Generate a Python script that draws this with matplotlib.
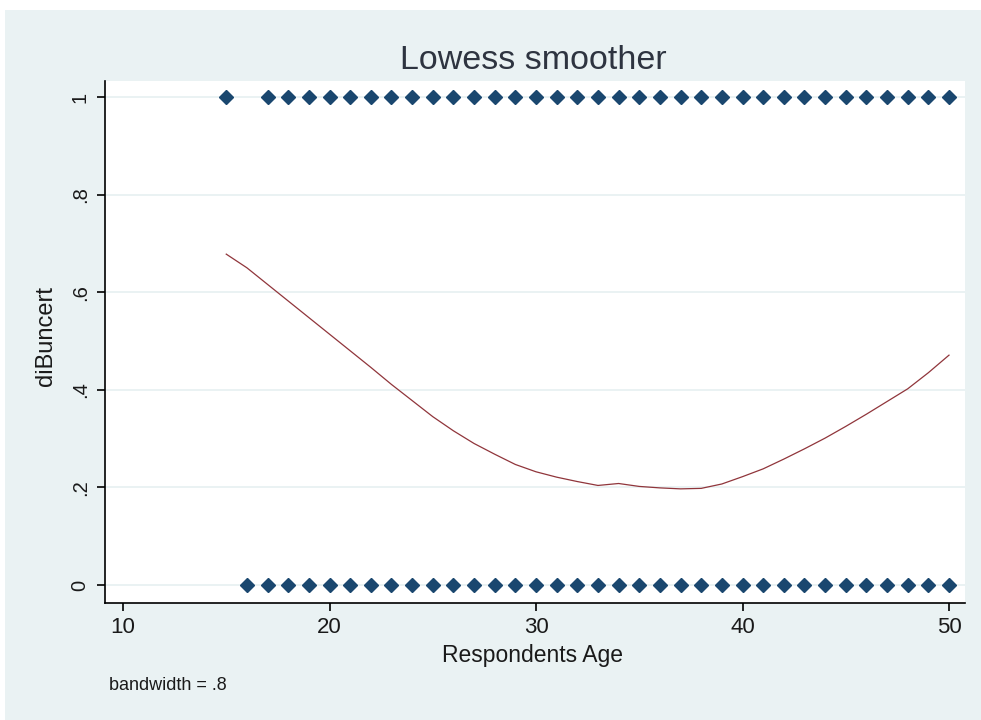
import matplotlib
matplotlib.use("Agg")
import matplotlib.pyplot as plt
from matplotlib.patches import Rectangle

# ---- data ----
ages_one = [15] + list(range(17, 51))
ages_zero = list(range(16, 51))
lowess_age = list(range(15, 51))
lowess_val = [0.678, 0.650, 0.616, 0.582, 0.548, 0.514, 0.480, 0.446, 0.411,
              0.378, 0.345, 0.316, 0.290, 0.268, 0.247, 0.232, 0.221, 0.212,
              0.204, 0.208, 0.202, 0.199, 0.197, 0.198, 0.207, 0.222, 0.238,
              0.258, 0.279, 0.301, 0.325, 0.350, 0.376, 0.402, 0.435, 0.471]
x_ticks = [10, 20, 30, 40, 50]
y_ticks = [0, 0.2, 0.4, 0.6, 0.8, 1]
y_ticklabels = ["0", ".2", ".4", ".6", ".8", "1"]

plt.rcParams['font.family'] = ['Liberation Sans', 'DejaVu Sans']

W, H = 981, 720
fig = plt.figure(figsize=(W / 100, H / 100), dpi=100, facecolor="white")
bg = "#EAF2F3"
fig.patches.append(Rectangle((5 / W, 0), 1 - 5 / W, 1 - 10 / H, transform=fig.transFigure,
                             facecolor=bg, edgecolor="none", zorder=-10))

ax = fig.add_axes([105 / W, 1 - 603 / H, (965 - 105) / W, (603 - 81) / H])
ax.set_facecolor("white")

navy = "#1A476F"
maroon = "#90353B"
txt = "#1a1a1a"

ax.plot(ages_one, [1] * len(ages_one), linestyle="none", marker="D", markersize=6.8,
        color=navy, zorder=3, clip_on=False)
ax.plot(ages_zero, [0] * len(ages_zero), linestyle="none", marker="D", markersize=6.8,
        color=navy, zorder=3, clip_on=False)
ax.plot(lowess_age, lowess_val, color=maroon, linewidth=0.9, zorder=4)

ax.set_xlim(10 - 18 / 20.65, 50 + 16 / 20.65)
ax.set_ylim(-18 / 488, 1 + 16 / 488)

ax.set_xticks(x_ticks)
ax.set_xticklabels([str(v) for v in x_ticks], fontsize=16)
ax.set_yticks(y_ticks)
ax.set_yticklabels(y_ticklabels, fontsize=14.5, rotation=90, va="center")

ax.yaxis.grid(True, color=bg, linewidth=1.4)
ax.xaxis.grid(False)
ax.set_axisbelow(True)

for s in ["top", "right"]:
    ax.spines[s].set_visible(False)
for s in ["left", "bottom"]:
    ax.spines[s].set_color("black")
    ax.spines[s].set_linewidth(1.2)

ax.tick_params(axis="both", direction="out", length=5.5, width=1.2, color="black",
               labelcolor=txt)
ax.tick_params(axis="x", pad=4.5)
ax.tick_params(axis="y", pad=5.5)

fig.text(532 / W, 1 - 662 / H, "Respondents Age", fontsize=16.5, color=txt,
         ha="center", va="baseline")
fig.text(46 / W, 1 - 336 / H, "diBuncert", fontsize=17, color=txt,
         ha="center", va="center", rotation=90)

fig.text(533 / W, 1 - 69 / H, "Lowess smoother", fontsize=24.5, color="#2E3440",
         ha="center", va="baseline")
fig.text(109 / W, 1 - 686 / H, "bandwidth = .8", fontsize=13, color=txt,
         ha="left", va="center")

fig.savefig("out.png", dpi=100, facecolor=fig.get_facecolor())
